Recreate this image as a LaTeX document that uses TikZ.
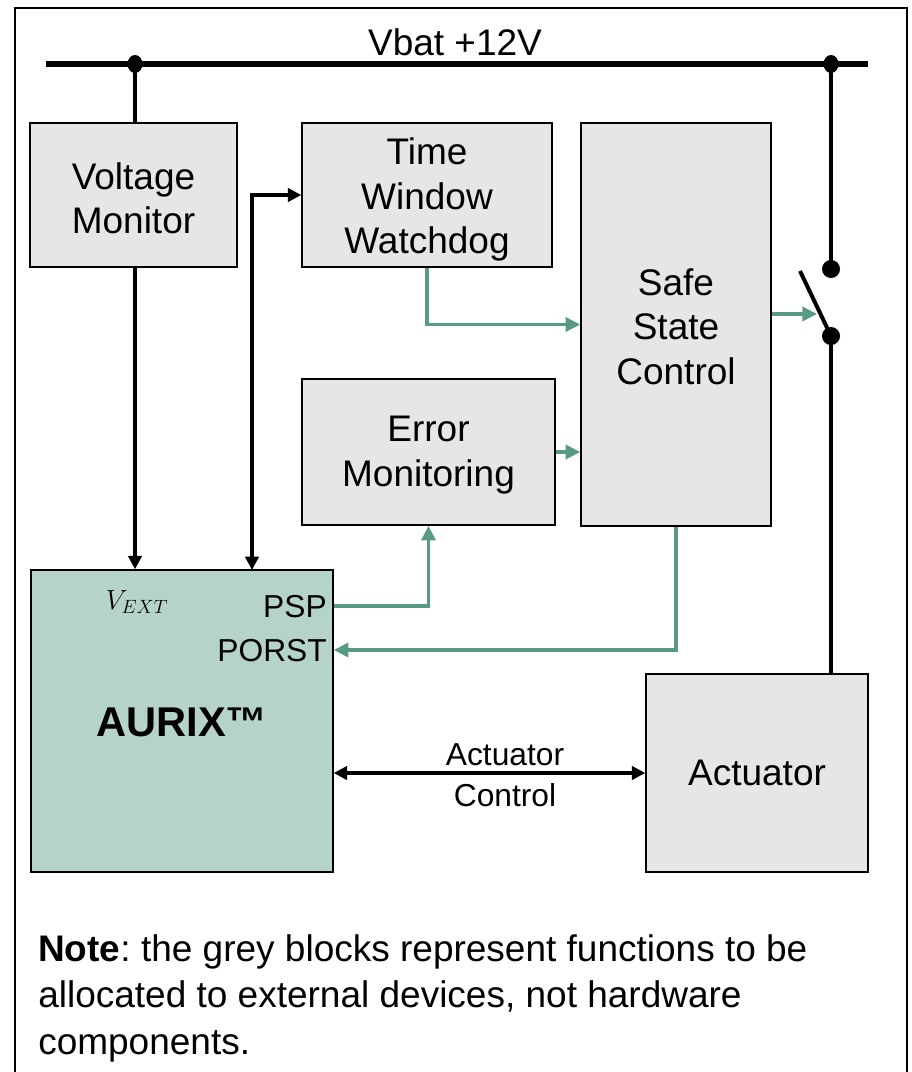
\documentclass[tikz,border=0pt]{standalone}
\usepackage{fontspec}
\setmainfont{Liberation Sans}
\frenchspacing
\usetikzlibrary{arrows.meta,calc}
\definecolor{boxgrey}{HTML}{E7E6E6}
\definecolor{aurixfill}{HTML}{B6D3CB}
\definecolor{sigreen}{HTML}{589A82}
\def\u{0.75pt}
\tikzset{
  blk/.style={draw=black, line width=1.1pt, fill=boxgrey, inner sep=0pt},
  blktxt/.style={inner sep=0pt, align=center, font=\fontsize{27.75}{33.4}\selectfont},
  bus/.style={line width=3.8pt},
  wire/.style={line width=3pt},
  barrow/.style={line width=2.4pt, -{Triangle[length=10pt,width=10pt]}},
  bdarrow/.style={line width=2.4pt, {Triangle[length=10pt,width=10pt]}-{Triangle[length=10pt,width=10pt]}},
  garrow/.style={draw=sigreen, line width=2.7pt, -{Triangle[length=11pt,width=10.5pt]}},
  lbl/.style={inner sep=0pt, font=\fontsize{23.8}{28}\selectfont},
}
\begin{document}
\begin{tikzpicture}[x=\u, y=-\u]
\clip (0,0) rectangle (912,1072);
\useasboundingbox (0,0) rectangle (912,1072);
% outer frame
\draw[line width=1.4pt] (15,8) rectangle (907,1090);

% bus
\coordinate (busL) at (46,64);
\coordinate (busR) at (868,64);
\coordinate (dot1) at (135,64);
\coordinate (dot2) at (831,64);
\draw[bus] (busL) -- (busR);
\node[inner sep=0pt, font=\fontsize{27.75}{33}\selectfont] (vbat) at (455,42) {Vbat +12V};

% blocks
\node[blk, minimum width=207*\u, minimum height=144*\u] (vm) at (133.5,195) {};
\node[blk, minimum width=250*\u, minimum height=144*\u] (tww) at (427,195) {};
\node[blk, minimum width=190*\u, minimum height=403*\u] (ssc) at (676,324.5) {};
\node[blk, minimum width=253*\u, minimum height=146*\u] (em) at (428.5,452) {};
\node[blk, fill=aurixfill, minimum width=302*\u, minimum height=302*\u] (aurix) at (182,721) {};
\node[blk, minimum width=222*\u, minimum height=198*\u] (act) at (757,773) {};

\node[blktxt] (vmt) at ([yshift=-2.5pt]vm.center) {Voltage\\Monitor};
\node[blktxt] (twwt) at ([yshift=-3.5pt]tww.center) {Time\\Window\\Watchdog};
\node[blktxt] (ssct) at ([yshift=-1.5pt]ssc.center) {Safe\\State\\Control};
\node[blktxt] (emt) at ([yshift=-2.5pt]em.center) {Error\\Monitoring};
\node[blktxt] (actt) at (act.center) {Actuator};

% AURIX labels
\node[inner sep=0pt, font=\fontsize{31.2}{36}\selectfont\bfseries] (aurixlbl) at (182,722) {AURIX™};
\node[inner sep=0pt, font=\fontsize{22}{24}\selectfont] (vext) at (137,602) {$V_{EXT}$};
\node[lbl, anchor=east] (psp) at (327,607) {PSP};
\node[lbl, anchor=east] (porst) at (327,651) {PORST};

% dots
\fill (dot1) ellipse [x radius=7.5, y radius=9];
\fill (dot2) ellipse [x radius=7.5, y radius=9];

% voltage monitor connections
\draw[wire] (dot1) -- (dot1 |- vm.north);
\draw[barrow] (vm.south -| dot1) -- (dot1 |- aurix.north);

% watchdog <-> AURIX
\coordinate (wd) at (252,570);
\draw[bdarrow] (wd) |- (tww.west);

% green signals
\draw[garrow] (tww.south) |- (ssc.west);
\draw[garrow] (em.east) -- (em.east -| ssc.west);
\coordinate (pspout) at (aurix.east |- 0,606);
\draw[garrow] (pspout) -| (em.south);
\coordinate (porstin) at (aurix.east |- 0,650);
\draw[garrow] (ssc.south) |- (porstin);

% switch
\coordinate (s1) at (831,269);
\coordinate (s2) at (831,336);
\coordinate (blade) at (800,271);
\draw[wire] (dot2) -- (s1);
\draw[wire] (blade) -- (s2);
\draw[wire] (s2) -- (s2 |- act.north);
\fill (s1) circle [radius=9];
\fill (s2) circle [radius=9];
\coordinate (swin) at (817,314);
\draw[garrow] (ssc.east |- swin) -- (swin);

% actuator control
\draw[bdarrow] (act.west -| aurix.east) -- (act.west);
\node[lbl] (aclbl1) at (505,755) {Actuator};
\node[lbl] (aclbl2) at (505,795) {Control};

% note
\node[inner sep=0pt, anchor=west, align=left, font=\fontsize{27.75}{34.9}\selectfont] (note) at (38,998)
  {\textbf{Note}: the grey blocks represent functions to be\\allocated to external devices, not hardware\\components.};
\end{tikzpicture}
\end{document}
